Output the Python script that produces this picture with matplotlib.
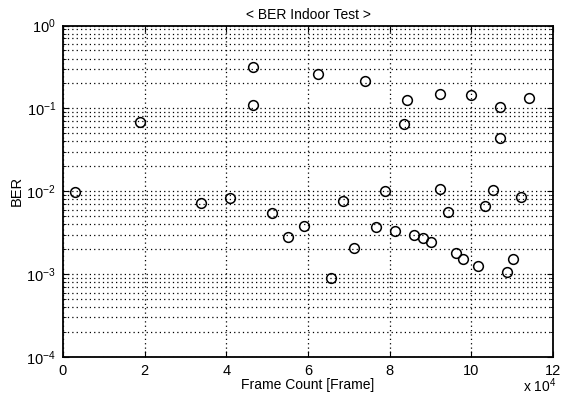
import matplotlib
matplotlib.use('Agg')
from matplotlib import pyplot as plt
from matplotlib.ticker import LogLocator, FuncFormatter, NullFormatter

import numpy as np

plt.rcParams['font.family'] = ['Liberation Sans', 'DejaVu Sans']
plt.rcParams['mathtext.fontset'] = 'custom'
plt.rcParams['mathtext.rm'] = 'Liberation Sans'
plt.rcParams['mathtext.it'] = 'Liberation Sans:italic'

frames = [
    2900, 18900, 46500, 46500, 62400, 74000, 84200, 83400,
    92400, 99800, 107100, 114000, 107100,
    33700, 40800, 51100, 55000, 58900, 68500, 71300, 76700,
    78900, 81400, 86000, 88200, 90200, 92200, 94300, 96100,
    98000, 101600, 103400, 105300, 112200, 110200, 108700, 65600,
]
ber = [
    0.0097, 0.068, 0.32, 0.109, 0.262, 0.217, 0.125, 0.065,
    0.150, 0.146, 0.104, 0.135, 0.044,
    0.00723, 0.0083, 0.0054, 0.00284, 0.00385, 0.0076, 0.00207, 0.00368,
    0.0100, 0.00335, 0.0030, 0.00274, 0.00243, 0.0107, 0.00558, 0.00181,
    0.00154, 0.00124, 0.0067, 0.0104, 0.0085, 0.00154, 0.00107, 0.00089,
]
x_ticks = [0, 20000, 40000, 60000, 80000, 100000, 120000]

fig = plt.figure(figsize=(5.65, 3.96), dpi=100)
ax = fig.add_axes([0.1115, 0.0985, 0.8675, 0.837])

ax.semilogy(frames, ber, linestyle='none', marker='o', markersize=7,
            markerfacecolor='none', markeredgecolor='black', markeredgewidth=1.1)

ax.set_xlim(0, 120000)
ax.set_ylim(1e-4, 1)
ax.set_xticks(x_ticks)
ax.xaxis.set_major_formatter(FuncFormatter(lambda v, p: '%d' % round(v / 1e4)))
ax.yaxis.set_major_locator(LogLocator(base=10, numticks=10))
ax.yaxis.set_minor_locator(LogLocator(base=10, subs=np.arange(2, 10), numticks=20))
ax.yaxis.set_minor_formatter(NullFormatter())
ax.yaxis.set_major_formatter(FuncFormatter(lambda v, p: '$10^{%d}$' % round(np.log10(v))))

dots = (0, (1, 2.5))
ax.grid(True, which='major', axis='both', color='black', linestyle=dots, linewidth=0.9)
ax.grid(True, which='minor', axis='y', color='black', linestyle=dots, linewidth=0.9)

ax.tick_params(which='both', direction='in', top=True, right=True, labelsize=10.5,
               colors='black', pad=5)
ax.tick_params(which='major', length=4)
ax.tick_params(which='minor', length=2)
for s in ax.spines.values():
    s.set_linewidth(1.3)

ax.set_title('< BER Indoor Test >', fontsize=10, pad=5)
ax.set_xlabel('Frame Count [Frame]', fontsize=10, labelpad=0)
ax.set_ylabel('BER', fontsize=10.5, labelpad=2)

fig.text(0.925, 0.003, r'x $10^4$', fontsize=10, va='bottom')

plt.savefig('out.png', dpi=100)
plt.close()
